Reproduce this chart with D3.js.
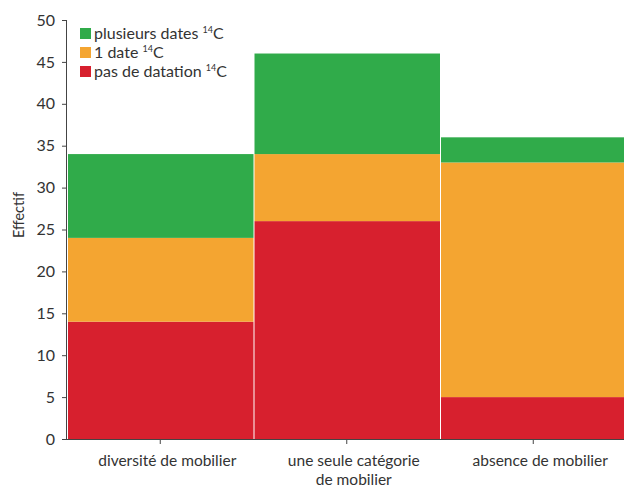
<!DOCTYPE html>
<html><head><meta charset="utf-8">
<script src="https://cdn.jsdelivr.net/npm/d3@7"></script>
<style>body{margin:0;background:#fff}svg{display:block}text{font-family:Lato,"Open Sans",sans-serif}</style>
</head><body><div id="c"></div>
<script>
const categories = [["diversité de mobilier"], ["une seule catégorie", "de mobilier"], ["absence de mobilier"]];
const catKeys = ["diversite", "une_seule", "absence"];
const seriesNames = ["pas de datation", "1 date", "plusieurs dates"];
const pasDeDatation = [14, 26, 5];
const uneDate = [10, 8, 28];
const plusieursDates = [10, 12, 3];
const yTicks = [0, 5, 10, 15, 20, 25, 30, 35, 40, 45, 50];
const colors = ["#d7202e", "#f4a531", "#30ab4a"];

const W = 624, H = 488;
const svg = d3.select("#c").append("svg").attr("width", W).attr("height", H);
const x0 = 67, yBase = 439;
const x = d3.scaleBand().domain(catKeys).range([x0, x0 + 3 * 186.5]).padding(0);
const y = d3.scaleLinear().domain([0, 50]).range([yBase, 20]);

const rows = catKeys.map((k, i) => ({key: k, s0: pasDeDatation[i], s1: uneDate[i], s2: plusieursDates[i]}));
const stack = d3.stack().keys(["s0", "s1", "s2"])(rows);

svg.append("g").selectAll("g").data(stack).join("g").attr("fill", (d, i) => colors[i])
  .selectAll("rect").data(d => d).join("rect")
  .attr("x", d => x(d.data.key) + 1)
  .attr("width", x.bandwidth() - 1)
  .attr("y", d => y(d[1]))
  .attr("height", d => y(d[0]) - y(d[1]));

// y axis
const ya = svg.append("g").attr("transform", `translate(${x0},0)`)
  .call(d3.axisLeft(y).tickValues(yTicks).tickSize(5).tickPadding(7));
ya.select(".domain").attr("stroke", "#444").attr("d", `M-0.5,${yBase}V${y(50)}`);
ya.selectAll(".tick line").attr("stroke", "#444");
ya.selectAll("text").attr("font-size", 16).attr("fill", "#333");

// x axis
const xa = svg.append("g").attr("transform", `translate(0,${yBase})`)
  .call(d3.axisBottom(x).tickSize(5).tickFormat(""));
xa.select(".domain").attr("stroke", "#444").attr("d", `M${x0},0.5H${W}`);
xa.selectAll(".tick line").attr("stroke", "#444");
xa.selectAll(".tick").each(function(d, i) {
  const t = d3.select(this).append("text").attr("fill", "#333").attr("font-size", 15.5)
    .attr("text-anchor", "middle").attr("x", 7);
  categories[i].forEach((line, j) => t.append("tspan").attr("x", 7).attr("y", 27 + j * 19).text(line));
});

// y label
svg.append("text").attr("transform", "translate(24,215) rotate(-90)").attr("text-anchor", "middle")
  .attr("font-size", 14.5).attr("fill", "#333").text("Effectif");

// legend
const legendOrder = [2, 1, 0];
const lg = svg.append("g").attr("transform", "translate(80,26)");
legendOrder.forEach((si, j) => {
  const g = lg.append("g").attr("transform", `translate(0,${j * 19})`);
  g.append("rect").attr("width", 11).attr("height", 11).attr("y", 2).attr("fill", colors[si]);
  const t = g.append("text").attr("x", 14).attr("y", 13).attr("font-size", 16).attr("fill", "#333");
  t.append("tspan").text(seriesNames[si] + " ");
  t.append("tspan").attr("font-size", 9).attr("dy", -6).text("14");
  t.append("tspan").attr("dy", 6).text("C");
});
</script></body></html>
